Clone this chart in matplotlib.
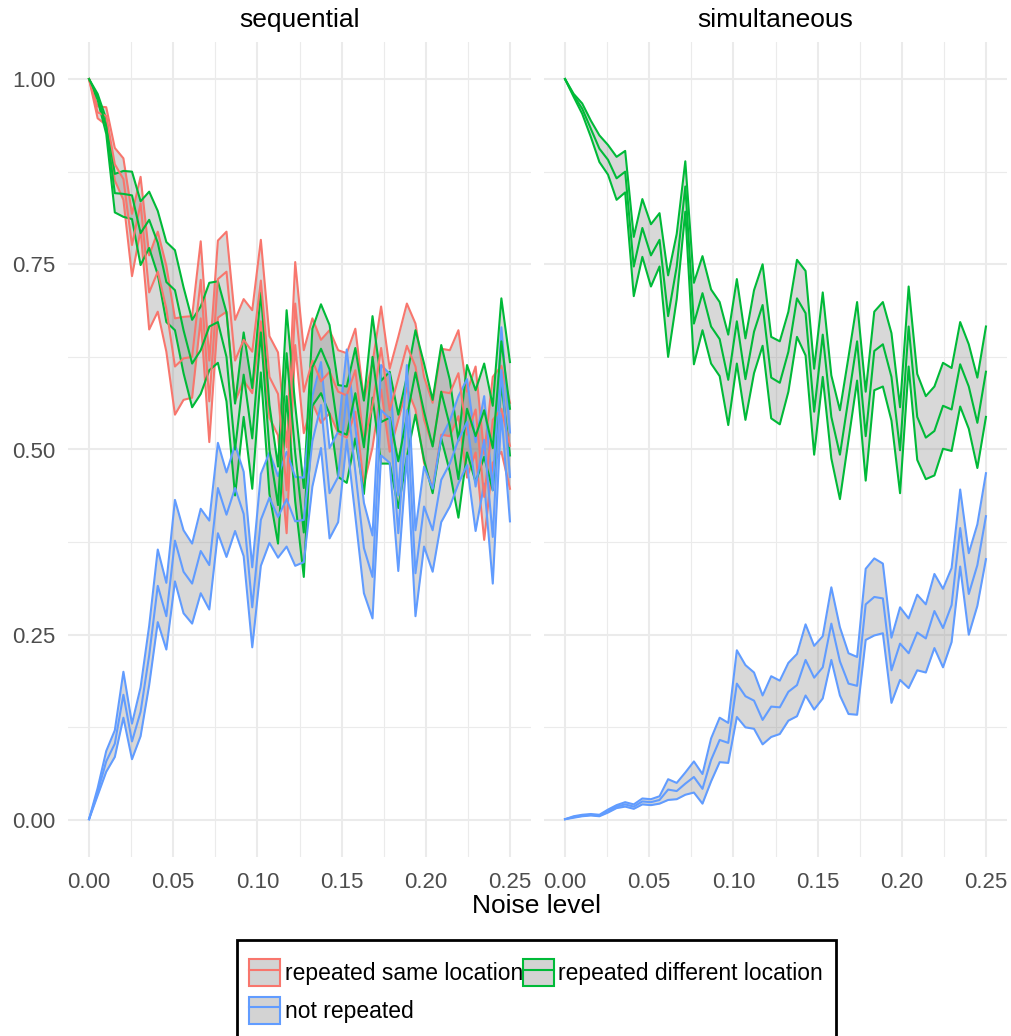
import numpy as np
import matplotlib
matplotlib.use("Agg")
import matplotlib.pyplot as plt
from matplotlib.patches import Patch, Rectangle
from matplotlib.lines import Line2D

plt.rcParams['font.family'] = ['Liberation Sans', 'DejaVu Sans']

# noise levels (50 steps between 0 and 0.25)
noise = np.linspace(0, 0.25, 50)

# sequential panel: mean and half-width of the ribbon
seq_same_mean = [1.000, 0.955, 0.950, 0.885, 0.865, 0.776, 0.832, 0.712, 0.740, 0.690,
                 0.612, 0.623, 0.625, 0.729, 0.565, 0.730, 0.740, 0.620, 0.648, 0.632,
                 0.728, 0.598, 0.575, 0.445, 0.697, 0.578, 0.620, 0.592, 0.605, 0.578,
                 0.573, 0.607, 0.510, 0.560, 0.637, 0.553, 0.596, 0.640, 0.612, 0.540,
                 0.505, 0.578, 0.576, 0.603, 0.520, 0.554, 0.436, 0.540, 0.555, 0.505]
seq_same_ci = [0.000, 0.008, 0.012, 0.022, 0.028, 0.042, 0.036, 0.050, 0.054, 0.058,
               0.065, 0.056, 0.055, 0.052, 0.055, 0.052, 0.054, 0.055, 0.055, 0.056,
               0.055, 0.055, 0.056, 0.058, 0.056, 0.056, 0.057, 0.056, 0.056, 0.056,
               0.057, 0.056, 0.057, 0.057, 0.056, 0.056, 0.056, 0.057, 0.058, 0.058,
               0.058, 0.058, 0.058, 0.058, 0.058, 0.058, 0.058, 0.058, 0.058, 0.058]

seq_diff_mean = [1.000, 0.976, 0.936, 0.846, 0.845, 0.843, 0.792, 0.810, 0.779, 0.726,
                 0.715, 0.661, 0.616, 0.634, 0.666, 0.672, 0.625, 0.500, 0.601, 0.515,
                 0.658, 0.500, 0.425, 0.630, 0.495, 0.388, 0.611, 0.636, 0.608, 0.525,
                 0.520, 0.576, 0.503, 0.625, 0.537, 0.543, 0.484, 0.544, 0.604, 0.551,
                 0.504, 0.578, 0.532, 0.460, 0.555, 0.518, 0.553, 0.502, 0.646, 0.555]
seq_diff_ci = [0.000, 0.004, 0.010, 0.026, 0.031, 0.032, 0.043, 0.038, 0.043, 0.054,
               0.054, 0.058, 0.059, 0.059, 0.059, 0.055, 0.060, 0.062, 0.057, 0.068,
               0.054, 0.060, 0.052, 0.058, 0.065, 0.060, 0.052, 0.060, 0.060, 0.062,
               0.065, 0.061, 0.063, 0.055, 0.056, 0.062, 0.063, 0.054, 0.057, 0.065,
               0.063, 0.063, 0.062, 0.052, 0.059, 0.062, 0.063, 0.057, 0.058, 0.063]

seq_not_mean = [0.001, 0.038, 0.079, 0.103, 0.169, 0.106, 0.146, 0.222, 0.316, 0.275,
                0.377, 0.335, 0.319, 0.363, 0.344, 0.448, 0.412, 0.448, 0.413, 0.287,
                0.405, 0.435, 0.409, 0.433, 0.403, 0.405, 0.511, 0.560, 0.441, 0.463,
                0.574, 0.470, 0.367, 0.328, 0.553, 0.542, 0.387, 0.553, 0.333, 0.423,
                0.391, 0.459, 0.481, 0.513, 0.537, 0.450, 0.513, 0.382, 0.607, 0.463]
seq_not_ci = [0.000, 0.005, 0.014, 0.018, 0.031, 0.024, 0.033, 0.040, 0.049, 0.045,
              0.055, 0.056, 0.054, 0.057, 0.060, 0.061, 0.057, 0.058, 0.057, 0.054,
              0.062, 0.061, 0.055, 0.064, 0.060, 0.057, 0.061, 0.058, 0.061, 0.061,
              0.061, 0.060, 0.061, 0.056, 0.061, 0.060, 0.051, 0.061, 0.058, 0.054,
              0.056, 0.057, 0.058, 0.059, 0.058, 0.060, 0.059, 0.063, 0.058, 0.060]

# simultaneous panel
sim_diff_mean = [1.000, 0.978, 0.960, 0.933, 0.906, 0.891, 0.866, 0.875, 0.747, 0.799,
                 0.762, 0.783, 0.680, 0.747, 0.855, 0.670, 0.711, 0.666, 0.649, 0.594,
                 0.673, 0.595, 0.659, 0.695, 0.597, 0.590, 0.632, 0.704, 0.684, 0.551,
                 0.655, 0.544, 0.493, 0.569, 0.646, 0.518, 0.633, 0.642, 0.598, 0.499,
                 0.666, 0.544, 0.516, 0.525, 0.559, 0.554, 0.615, 0.585, 0.536, 0.605]
sim_diff_ci = [0.000, 0.002, 0.007, 0.011, 0.018, 0.020, 0.029, 0.028, 0.040, 0.039,
               0.042, 0.036, 0.055, 0.044, 0.034, 0.055, 0.050, 0.050, 0.050, 0.061,
               0.057, 0.055, 0.056, 0.055, 0.055, 0.056, 0.054, 0.052, 0.057, 0.058,
               0.057, 0.056, 0.060, 0.056, 0.053, 0.060, 0.053, 0.057, 0.059, 0.058,
               0.054, 0.058, 0.056, 0.060, 0.058, 0.056, 0.057, 0.057, 0.061, 0.061]

sim_not_mean = [0.001, 0.004, 0.006, 0.007, 0.006, 0.012, 0.018, 0.021, 0.018, 0.025,
                0.024, 0.027, 0.041, 0.039, 0.049, 0.058, 0.042, 0.081, 0.108, 0.104,
                0.184, 0.167, 0.161, 0.135, 0.153, 0.152, 0.173, 0.182, 0.216, 0.192,
                0.206, 0.265, 0.214, 0.184, 0.181, 0.291, 0.301, 0.299, 0.202, 0.238,
                0.225, 0.253, 0.245, 0.282, 0.259, 0.290, 0.394, 0.305, 0.344, 0.410]
sim_not_ci = [0.000, 0.001, 0.001, 0.001, 0.001, 0.002, 0.002, 0.003, 0.003, 0.004,
              0.004, 0.005, 0.014, 0.011, 0.015, 0.021, 0.020, 0.029, 0.030, 0.027,
              0.045, 0.042, 0.038, 0.033, 0.041, 0.036, 0.039, 0.042, 0.048, 0.043,
              0.042, 0.049, 0.046, 0.041, 0.039, 0.048, 0.052, 0.047, 0.044, 0.049,
              0.047, 0.051, 0.046, 0.050, 0.053, 0.050, 0.052, 0.055, 0.055, 0.058]

labels = ['repeated same location', 'repeated different location', 'not repeated']
colors = ['#F8766D', '#00BA38', '#619CFF']
panels = ['sequential', 'simultaneous']

W, H = 1011, 1036
fig = plt.figure(figsize=(W / 100, H / 100), dpi=100)

ax_l = fig.add_axes([68 / W, 1 - 857 / H, 463 / W, 815 / H])
ax_r = fig.add_axes([544 / W, 1 - 857 / H, 463 / W, 815 / H])

series = {
    'sequential': [(seq_same_mean, seq_same_ci, colors[0]),
                   (seq_diff_mean, seq_diff_ci, colors[1]),
                   (seq_not_mean, seq_not_ci, colors[2])],
    'simultaneous': [(sim_diff_mean, sim_diff_ci, colors[1]),
                     (sim_not_mean, sim_not_ci, colors[2])],
}

for ax, name in zip([ax_l, ax_r], panels):
    ax.set_xlim(-0.0125, 0.2625)
    ax.set_ylim(-0.05, 1.05)
    ax.set_xticks(np.arange(0, 0.26, 0.05))
    ax.set_xticks(np.arange(0.025, 0.26, 0.05), minor=True)
    ax.set_yticks([0, 0.25, 0.5, 0.75, 1.0])
    ax.set_yticks([0.125, 0.375, 0.625, 0.875], minor=True)
    ax.grid(True, which='major', color='#EBEBEB', lw=1.5)
    ax.grid(True, which='minor', color='#EBEBEB', lw=0.8)
    ax.set_axisbelow(True)
    for s in ax.spines.values():
        s.set_visible(False)
    ax.tick_params(which='both', length=0, labelsize=16, colors='#4D4D4D')
    ax.tick_params(axis='x', pad=11)
    ax.tick_params(axis='y', pad=9)
    ax.set_xticklabels(['0.00', '0.05', '0.10', '0.15', '0.20', '0.25'])

    groups = series[name]
    # ribbons with coloured outline first, then the mean lines
    for mean, ci, col in groups:
        m = np.array(mean)
        c = np.array(ci)
        ax.fill_between(noise, m - c, m + c, color='#7F7F7F', alpha=0.3, lw=0)
        ax.plot(noise, m + c, color=col, lw=1.5)
        ax.plot(noise, m - c, color=col, lw=1.5)
    for mean, ci, col in groups:
        ax.plot(noise, mean, color=col, lw=1.5)

ax_l.set_yticklabels(['0.00', '0.25', '0.50', '0.75', '1.00'])
ax_r.set_yticklabels([])

fig.text((68 + 531) / 2 / W, 1 - 20 / H, 'sequential', ha='center', va='center', fontsize=19)
fig.text((544 + 1007) / 2 / W, 1 - 20 / H, 'simultaneous', ha='center', va='center', fontsize=19)
fig.text(536 / W, 1 - 906 / H, 'Noise level', ha='center', va='center', fontsize=19)


def key(col):
    return (Patch(facecolor='#D3D3D3', edgecolor=col, lw=1.5),
            Line2D([], [], color=col, lw=1.5))


# column-wise fill: first column red / blue, second column green
handles = [key(colors[0]), key(colors[2]), key(colors[1])]
names = [labels[0], labels[2], labels[1]]
leg = fig.legend(handles, names, loc='upper left', bbox_to_anchor=(249 / W, 1 - 959 / H),
                 ncol=2, fontsize=16.5, frameon=False,
                 handlelength=1.35, handleheight=1.45, handletextpad=0.2,
                 columnspacing=0.0, labelspacing=0.45, borderpad=0, borderaxespad=0)

# legend box runs past the bottom edge of the image
fig.add_artist(Rectangle((237 / W, -0.02), (836 - 237) / W, 0.02 + (1036 - 940) / H,
                         transform=fig.transFigure, fill=False, edgecolor='black', lw=2))

fig.savefig('out.png', dpi=100)
